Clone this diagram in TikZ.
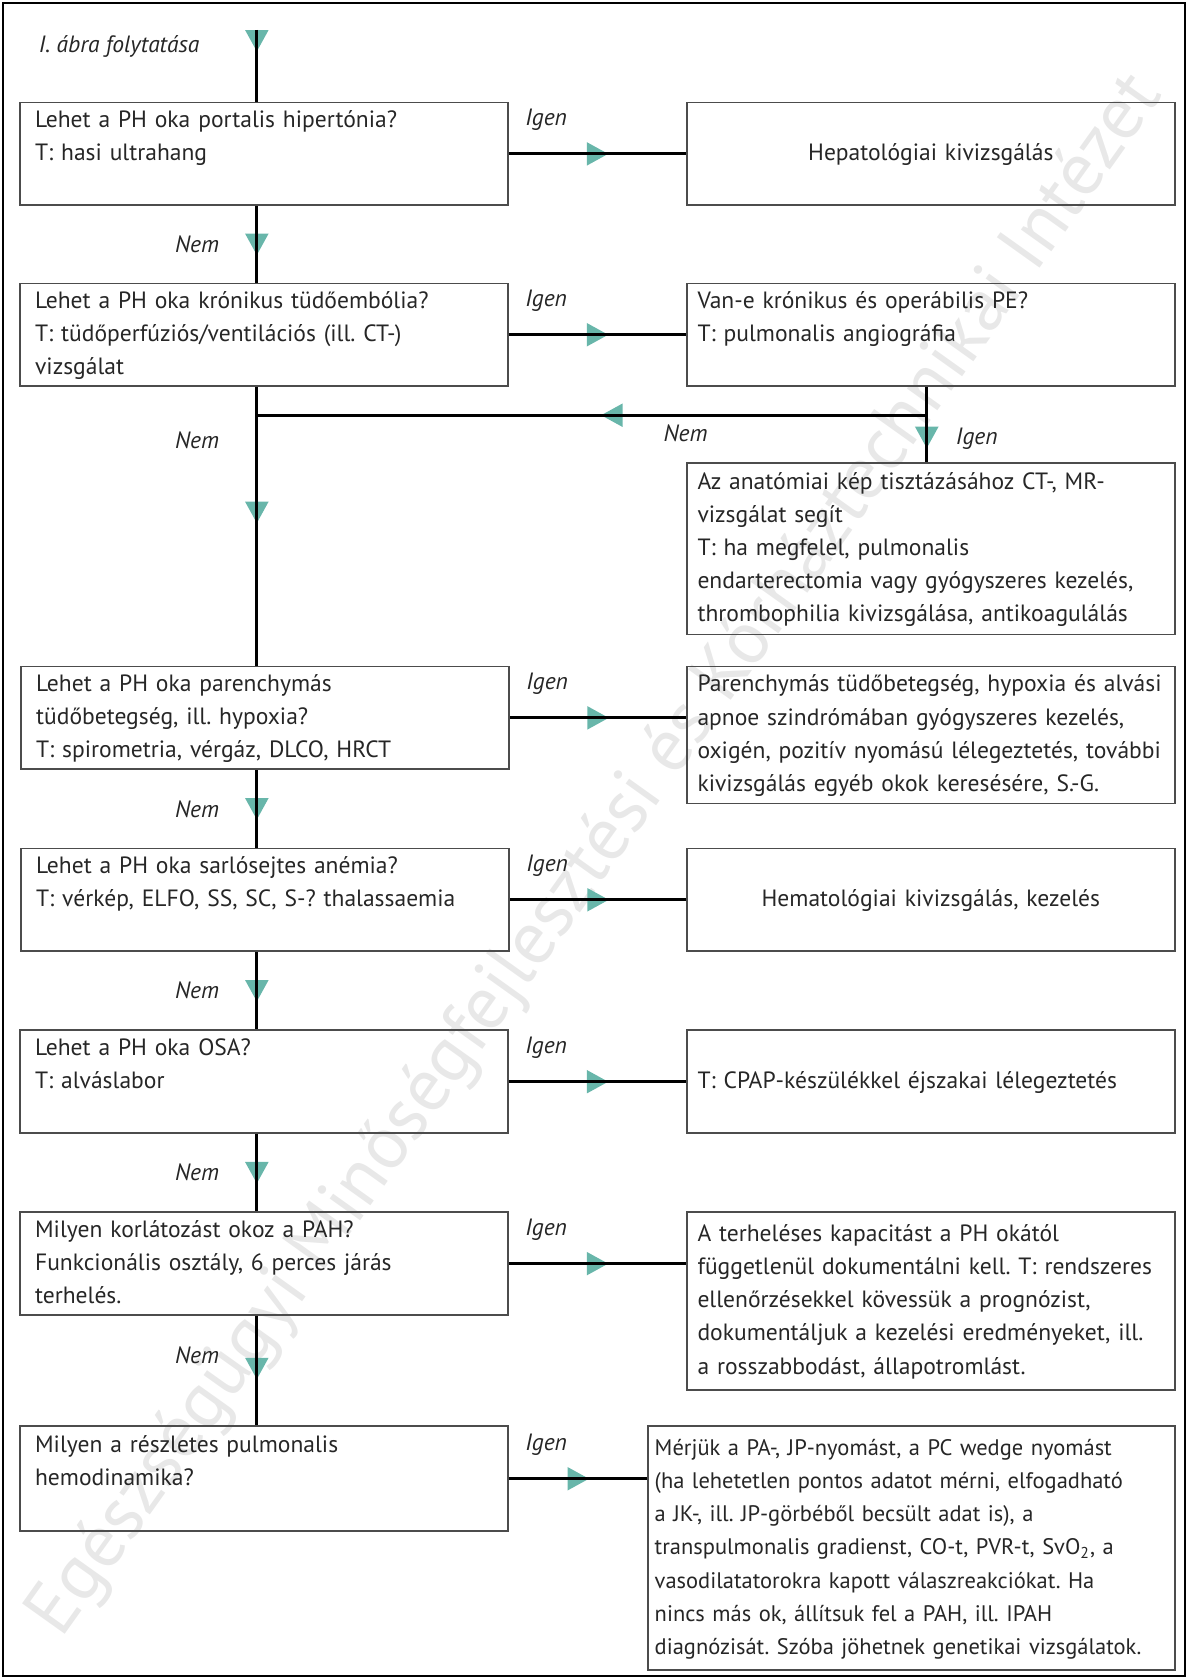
\documentclass[tikz,border=0pt]{standalone}
\usepackage{fontspec}
\setmainfont{PT Sans}
\frenchspacing
\usetikzlibrary{decorations.markings}
\definecolor{tipgreen}{RGB}{104,182,170}
\begin{document}
\begin{tikzpicture}[x=0.5pt,y=-0.5pt,line width=1.3pt,
  every node/.style={font=\fontsize{11}{15.5}\selectfont,text=black!85},
  box/.style={draw=black!70,line width=0.8pt,anchor=north west,align=left,
    inner xsep=7pt,inner ysep=0pt,text width=214pt,minimum height=48pt,
    execute at begin node=\strut,execute at end node=\strut},
  wide/.style={inner xsep=5pt,text width=218pt},
  lbl/.style={font=\fontsize{11}{15.5}\selectfont\itshape,inner sep=0pt},
  flow/.style={preaction={decorate,decoration={markings,
    mark=at position #1 with {\fill[tipgreen] (-10,11) -- (10,0) -- (-10,-11) -- cycle;}}}},
  flow/.default=0.5]
 \useasboundingbox (0,0) rectangle (1110,1568);
 \node[rotate=54.5,text=black!9,font=\fontsize{35}{35}\selectfont] (wm) at (558,800)
   {Egészségügyi Minőségfejlesztési és Kórháztechnikai Intézet};
 \draw[line width=1pt] (3,3) rectangle (1107,1566);
 \coordinate (top) at (240,28); \coordinate (split) at (866,388);
 \node[lbl,anchor=west] (cont) at (35,43) {I. ábra folytatása};
 \node[box] (q1) at (18,95) {Lehet a PH oka portalis hipertónia?\\T: hasi ultrahang\\};
 \node[box] (q2) at (18,264) {Lehet a PH oka krónikus tüdőembólia?\\T: tüdőperfúziós/ventilációs (ill. CT-)\\vizsgálat};
 \node[box] (q3) at (19,622) {Lehet a PH oka parenchymás\\tüdőbetegség, ill. hypoxia?\\T: spirometria, vérgáz, DLCO, HRCT};
 \node[box] (q4) at (19,792) {Lehet a PH oka sarlósejtes anémia?\\T: vérkép, ELFO, SS, SC, S-? thalassaemia\\};
 \node[box] (q5) at (18,962) {Lehet a PH oka OSA?\\T: alváslabor\\};
 \node[box] (q6) at (18,1132) {Milyen korlátozást okoz a PAH?\\Funkcionális osztály, 6 perces járás\\terhelés.};
 \node[box,minimum height=49pt] (q7) at (18,1332) {Milyen a részletes pulmonalis\\hemodinamika?\\};
 \node[box,wide,align=center] (a1) at (641,95) {Hepatológiai kivizsgálás};
 \node[box,wide] (a2) at (641,264) {Van-e krónikus és operábilis PE?\\T: pulmonalis angiográfia\\};
 \node[box,wide,minimum height=80pt] (a2b) at (641,432) {Az anatómiai kép tisztázásához CT-, MR-\\vizsgálat segít\\T: ha megfelel, pulmonalis\\endarterectomia vagy gyógyszeres kezelés,\\thrombophilia kivizsgálása, antikoagulálás};
 \node[box,wide,minimum height=64pt] (a3) at (641,622) {Parenchymás tüdőbetegség, hypoxia és alvási\\apnoe szindrómában gyógyszeres kezelés,\\oxigén, pozitív nyomású lélegeztetés, további\\kivizsgálás egyéb okok keresésére, S.-G.};
 \node[box,wide,align=center] (a4) at (641,792) {Hematológiai kivizsgálás, kezelés};
 \node[box,wide] (a5) at (641,962) {T: CPAP-készülékkel éjszakai lélegeztetés};
 \node[box,wide,minimum height=83pt] (a6) at (641,1132) {A terheléses kapacitást a PH okától\\függetlenül dokumentálni kell. T: rendszeres\\ellenőrzésekkel kövessük a prognózist,\\dokumentáljuk a kezelési eredményeket, ill.\\a rosszabbodást, állapotromlást.};
 \node[box,font=\fontsize{10.5}{15.5}\selectfont,inner xsep=3pt,text width=240pt,minimum height=114pt] (a7) at (605,1332) {Mérjük a PA-, JP-nyomást, a PC wedge nyomást\\(ha lehetetlen pontos adatot mérni, elfogadható\\a JK-, ill. JP-görbéből becsült adat is), a\\transpulmonalis gradienst, CO-t, PVR-t, SvO\textsubscript{2}, a\\vasodilatatorokra kapott válaszreakciókat. Ha\\nincs más ok, állítsuk fel a PAH, ill. IPAH\\diagnózisát. Szóba jöhetnek genetikai vizsgálatok.};
 \draw[flow=0.15] (top) -- (top |- q1.north);
 \draw[flow] (q1.south -| top) -- node[lbl,left=17pt] (n1) {Nem} (q2.north -| top);
 \draw[flow=0.45] (q2.south -| top) -- node[lbl,pos=0.19,left=17pt] (n2) {Nem} (q3.north -| top);
 \draw[flow] (q3.south -| top) -- node[lbl,left=17pt] (n3) {Nem} (q4.north -| top);
 \draw[flow] (q4.south -| top) -- node[lbl,left=17pt] (n4) {Nem} (q5.north -| top);
 \draw[flow] (q5.south -| top) -- node[lbl,left=17pt] (n5) {Nem} (q6.north -| top);
 \draw[flow=0.48] (q6.south -| top) -- node[lbl,pos=0.36,left=17pt] (n6) {Nem} (q7.north -| top);
 \draw[flow=0.67] (a2.south -| split) -- node[lbl,pos=0.69,right=13pt] (i2b) {Igen} (a2b.north -| split);
 \draw[flow=0.47] (split) -- node[lbl,pos=0.36,below=4pt] (n2b) {Nem} (split -| top);
 \foreach \q/\a in {q1/a1,q2/a2,q3/a3,q4/a4,q5/a5,q6/a6,q7/a7} {
   \draw[flow] (\q.east) -- (\q.east -| \a.west);
   \node[lbl,anchor=west] (i\q) at ([shift={(14,-32)}]\q.east) {Igen};
 }
\end{tikzpicture}
\end{document}
